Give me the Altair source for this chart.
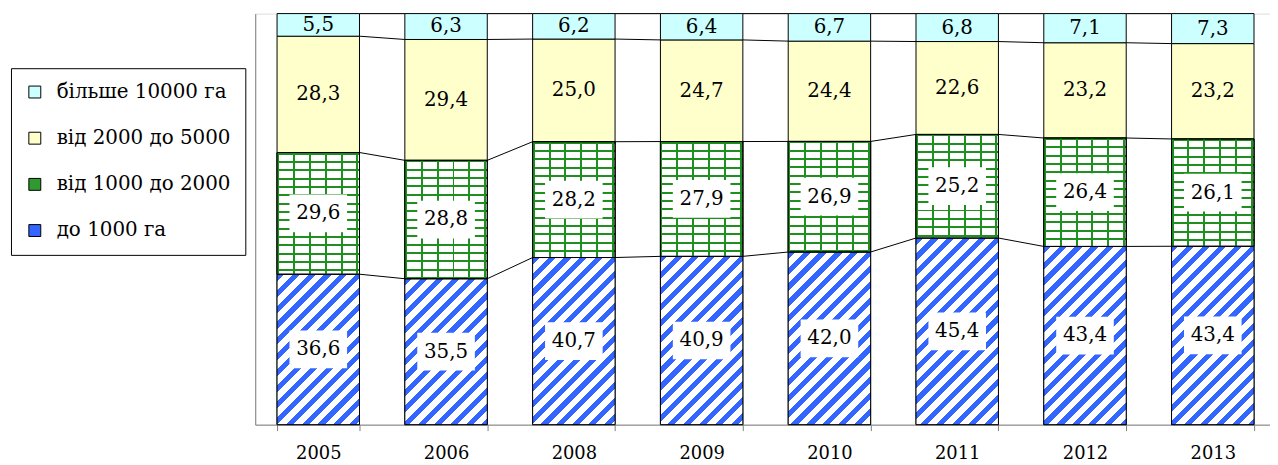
import altair as alt
import pandas as pd

# ---- data ----
years = ["2005", "2006", "2008", "2009", "2010", "2011", "2012", "2013"]
# series from bottom to top of the stack
series = ["до 1000 га", "від 1000 до 2000", "від 2000 до 5000", "більше 10000 га"]
v_upto_1000 = [36.6, 35.5, 40.7, 40.9, 42.0, 45.4, 43.4, 43.4]
v_1000_2000 = [29.6, 28.8, 28.2, 27.9, 26.9, 25.2, 26.4, 26.1]
v_2000_5000 = [28.3, 29.4, 25.0, 24.7, 24.4, 22.6, 23.2, 23.2]
v_over_10000 = [5.5, 6.3, 6.2, 6.4, 6.7, 6.8, 7.1, 7.3]
values = [v_upto_1000, v_1000_2000, v_2000_5000, v_over_10000]

legend_order = [series[3], series[2], series[1], series[0]]
legend_colors = ["#ccffff", "#ffffcc", "#2f9a2f", "#3366ff"]

# ---- geometry / style ----
PLOT_W = 1022
PLOT_H = 414
P_IN = 0.355
P_OUT = 0.148
ALIGN = 0.577
STEP = PLOT_W / (len(years) - P_IN + 2 * P_OUT)
BAR_W = STEP * (1 - P_IN)
PX = PLOT_H / 100.0
FONT = "DejaVu Serif"

# ---- tables built from the arrays ----
rows = []
for i, y in enumerate(years):
    total = sum(values[k][i] for k in range(4))
    cum = 0.0
    for k in range(4):
        v = values[k][i]
        y0 = cum / total * 100
        cum += v
        y1 = cum / total * 100
        rows.append({"year": y, "k": k, "series": series[k], "value": v,
                     "y0": y0, "y1": y1, "mid": (y0 + y1) / 2,
                     "label": f"{v:.1f}".replace(".", ",")})
df = pd.DataFrame(rows)

lines = []
for i in range(len(years) - 1):
    for k in range(4):
        a = df[(df.year == years[i]) & (df.k == k)].y1.iloc[0]
        b = df[(df.year == years[i + 1]) & (df.k == k)].y1.iloc[0]
        lines.append({"year": years[i], "next": years[i + 1], "ya": a, "yb": b})
ldf = pd.DataFrame(lines)


def stops_list(n, frac, c_on, c_off):
    out = []
    for i in range(n):
        a, b, c = i / n, (i + frac) / n, (i + 1) / n
        out += [(a, c_on), (b, c_on), (b, c_off), (c, c_off)]
    return out


def stops_expr(st):
    return "[" + ",".join(f"{{offset:{o:.5f},color:'{c}'}}" for o, c in st) + "]"


# blue diagonal stripes (45 deg, period 16px along x+y)
N_STRIPE = 20
L_STRIPE = N_STRIPE * 16.0
blue_stops = stops_expr(stops_list(N_STRIPE, 0.45, "#3366ff", "#ffffff"))
R = f"((datum.y1-datum.y0)*{PX:.5f}/{BAR_W:.4f})"
S = f"({L_STRIPE}/({BAR_W:.4f}*(1+{R}*{R})))"
blue_expr = (f"{{gradient:'linear',x1:0,y1:0,x2:{S},y2:{S}*{R},"
             f"stops:{blue_stops}}}")

# green brick rows (horizontal lines)
N_ROW = 16
ROW_H = 8.4
green_h_stops = stops_expr(stops_list(N_ROW, 2.0 / ROW_H, "#1f8f1f", "#ffffff"))
green_h_expr = (f"{{gradient:'linear',x1:0,y1:0,x2:0.000001,"
                f"y2:{N_ROW * ROW_H}/((datum.y1-datum.y0)*{PX:.5f}),"
                f"stops:{green_h_stops}}}")

# green vertical joints (transparent between)
N_COL = 6
COL_W = 16.0
green_v_grad = {
    "gradient": "linear", "x1": 0, "y1": 0, "x2": N_COL * COL_W / BAR_W, "y2": 0,
    "stops": [{"offset": o, "color": c} for o, c in
              stops_list(N_COL, 2.0 / COL_W, "#1f8f1f", "rgba(255,255,255,0)")],
}

x_scale = alt.Scale(domain=years, paddingInner=P_IN, paddingOuter=P_OUT, align=ALIGN)
y_scale = alt.Scale(domain=[0, 100], nice=False)
x_axis = alt.Axis(title=None, labelAngle=0, domainColor="#808080", tickColor="#808080",
                  tickSize=6, tickBand="extent", labelFont=FONT, labelFontSize=18,
                  labelColor="black", labelPadding=14, grid=False)
y_axis = alt.Axis(title=None, domainColor="#808080", ticks=False, labels=False, grid=False)


def X(field="year"):
    return alt.X(f"{field}:N", scale=x_scale, axis=x_axis, sort=years)


base = alt.Chart(df)

bars = base.mark_bar(stroke="black", strokeWidth=1).encode(
    x=X(),
    y=alt.Y("y0:Q", scale=y_scale, axis=y_axis),
    y2="y1:Q",
    color=alt.Color("series:N", scale=alt.Scale(domain=legend_order, range=legend_colors),
                    legend=alt.Legend(orient="none", legendX=-246, legendY=55, title=None,
                                      direction="vertical", strokeColor="black",
                                      fillColor="white", padding=14, symbolType="square",
                                      symbolSize=144, symbolStrokeColor="black",
                                      symbolStrokeWidth=1, labelFont=FONT, labelFontSize=20,
                                      labelColor="black", labelOffset=12, rowPadding=26.5,
                                      labelLimit=400)),
)

blue = base.transform_filter("datum.k == 0").mark_bar(stroke="black", strokeWidth=1).encode(
    x=X(), y=alt.Y("y0:Q", scale=y_scale, axis=y_axis), y2="y1:Q",
    fill={"value": {"expr": blue_expr}},
)

green_h = base.transform_filter("datum.k == 1").mark_bar(stroke="black", strokeWidth=1).encode(
    x=X(), y=alt.Y("y0:Q", scale=y_scale, axis=y_axis), y2="y1:Q",
    fill={"value": {"expr": green_h_expr}},
)

green_v = base.transform_filter("datum.k == 1").mark_bar(
    stroke="black", strokeWidth=1, fill=green_v_grad).encode(
    x=X(), y=alt.Y("y0:Q", scale=y_scale, axis=y_axis), y2="y1:Q",
)

series_lines = alt.Chart(ldf).mark_rule(color="black", strokeWidth=1).encode(
    x=alt.X("year:N", scale=x_scale, axis=x_axis, sort=years, bandPosition=1),
    x2=alt.X2("next:N", bandPosition=0),
    y=alt.Y("ya:Q", scale=y_scale, axis=y_axis),
    y2="yb:Q",
)

boxes = base.transform_filter("datum.k <= 1").mark_point(
    shape="M-1,-0.655L1,-0.655L1,0.655L-1,0.655Z", size=58 * 58, filled=True,
    fill="white", color="white", opacity=1, strokeWidth=0).encode(
    x=X(), y=alt.Y("mid:Q", scale=y_scale, axis=y_axis),
)

labels = base.mark_text(font=FONT, fontSize=20, color="black", baseline="middle",
                        align="center").encode(
    x=X(), y=alt.Y("mid:Q", scale=y_scale, axis=y_axis), text="label:N",
)

chart = alt.layer(bars, blue, green_h, green_v, series_lines, boxes, labels).properties(
    width=PLOT_W, height=PLOT_H,
    padding={"left": 2, "top": 3, "right": 0, "bottom": 0},
).configure_view(stroke=None).configure(background="white")

chart.save("out.html", embed_options={"renderer": "svg", "actions": False})
